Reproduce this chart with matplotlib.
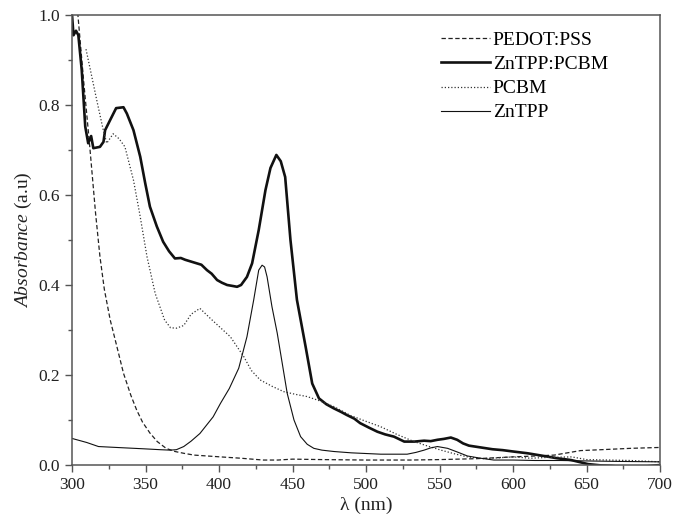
import matplotlib.pyplot as plt

# --- data ---
pedot_x = [302, 304, 308, 312, 316, 319, 322, 326, 330, 335, 340, 344, 348, 353, 358,
           364, 370, 376, 383, 392, 401, 415, 430, 440, 450, 470, 500, 530, 550, 575,
           600, 615, 628, 646, 660, 680, 700]
pedot_y = [1.08, 1.0, 0.85, 0.71, 0.56, 0.463, 0.39, 0.322, 0.27, 0.204, 0.155, 0.122,
           0.095, 0.071, 0.052, 0.037, 0.030, 0.026, 0.022, 0.020, 0.018, 0.015, 0.011,
           0.011, 0.013, 0.012, 0.011, 0.011, 0.012, 0.014, 0.018, 0.020, 0.022, 0.032,
           0.034, 0.037, 0.039]

blend_x = [300, 301, 302.7, 304.3, 306.6, 309, 311, 313, 314.5, 319, 321.4, 322.5, 326,
           330, 335, 337.3, 341.8, 346.4, 349.8, 353, 357.7, 362, 366, 370, 374, 377, 381,
           385, 388, 391.8, 395, 398.7, 402, 405.5, 409, 412.3, 415, 419, 422.5, 427,
           431.6, 435, 439, 442, 445, 448.6, 453, 458.9, 463.4, 468, 473, 478, 483, 487,
           492, 496, 502, 507.7, 513, 519, 526, 533, 539.5, 544, 548.6, 553, 557.7, 562,
           566, 570, 578, 586, 593, 600, 610, 621, 630, 639.5, 651, 660, 667, 678, 688, 700]
blend_y = [1.0, 0.955, 0.965, 0.955, 0.878, 0.752, 0.715, 0.731, 0.704, 0.707, 0.718,
           0.744, 0.767, 0.793, 0.795, 0.781, 0.744, 0.685, 0.626, 0.574, 0.53, 0.496,
           0.475, 0.459, 0.46, 0.456, 0.452, 0.448, 0.445, 0.433, 0.425, 0.411, 0.405,
           0.40, 0.398, 0.396, 0.40, 0.418, 0.448, 0.522, 0.611, 0.66, 0.689, 0.675,
           0.64, 0.5, 0.367, 0.263, 0.181, 0.148, 0.135, 0.126, 0.118, 0.111, 0.103,
           0.093, 0.083, 0.074, 0.068, 0.063, 0.052, 0.052, 0.054, 0.053, 0.056, 0.058,
           0.061, 0.056, 0.048, 0.043, 0.039, 0.035, 0.033, 0.030, 0.026, 0.020, 0.015,
           0.011, 0.002, -0.001, -0.002, -0.006, -0.004, 0.0]

pcbm_x = [309.5, 313, 316.8, 321, 323.6, 328, 332, 336, 341.8, 346, 351, 356.6, 363,
          367, 371, 376, 381, 387, 394, 401, 407.7, 416.8, 422, 428, 436, 444, 452, 460,
          469, 478, 489.5, 500, 510, 521, 532.7, 542, 551, 560, 569, 580, 590, 600, 612,
          625, 640, 650, 665, 680, 700]
pcbm_y = [0.924, 0.87, 0.811, 0.748, 0.715, 0.736, 0.725, 0.707, 0.633, 0.559, 0.463,
          0.381, 0.322, 0.305, 0.304, 0.31, 0.335, 0.348, 0.326, 0.305, 0.285, 0.241,
          0.21, 0.189, 0.175, 0.163, 0.157, 0.152, 0.142, 0.130, 0.11, 0.097, 0.085,
          0.068, 0.052, 0.042, 0.033, 0.025, 0.018, 0.014, 0.016, 0.018, 0.015, 0.017,
          0.018, 0.012, 0.011, 0.010, 0.007]

zntpp_x = [300, 310, 318, 330, 348.6, 360, 366.8, 371, 376, 381, 387, 396, 401, 407,
           413.4, 419, 423.6, 427, 429.3, 431, 432.7, 436, 439.6, 443, 446.4, 451,
           455.5, 460, 464.5, 470, 478, 490, 510, 528, 534, 539.5, 544, 548.6, 555.5,
           562, 569, 578, 587, 600, 615, 632.7, 650, 670, 700]
zntpp_y = [0.059, 0.050, 0.041, 0.039, 0.036, 0.034, 0.033, 0.034, 0.041, 0.053, 0.070,
           0.107, 0.137, 0.17, 0.215, 0.285, 0.367, 0.433, 0.444, 0.44, 0.418, 0.352,
           0.293, 0.226, 0.159, 0.10, 0.063, 0.046, 0.037, 0.033, 0.030, 0.027, 0.024,
           0.024, 0.028, 0.033, 0.038, 0.041, 0.037, 0.029, 0.020, 0.015, 0.011, 0.011,
           0.010, 0.010, 0.009, 0.008, 0.007]

labels = ["PEDOT:PSS", "ZnTPP:PCBM", "PCBM", "ZnTPP"]

plt.rcParams["font.family"] = ["Liberation Serif", "DejaVu Serif"]
plt.rcParams["mathtext.fontset"] = "custom"
plt.rcParams["mathtext.rm"] = "Liberation Serif"
plt.rcParams["mathtext.it"] = "Liberation Serif:italic"

fig = plt.figure(figsize=(6.75, 5.17), dpi=100)
ax = fig.add_axes([0.1067, 0.1006, 0.8711, 0.8704])

ax.plot(pedot_x, pedot_y, color="#222222", lw=0.9, ls=(0, (3.5, 2)), label=labels[0])
ax.plot(blend_x, blend_y, color="#111111", lw=1.9, ls="-", label=labels[1])
ax.plot(pcbm_x, pcbm_y, color="#333333", lw=0.9, ls=(0, (1, 1.6)), label=labels[2])
ax.plot(zntpp_x, zntpp_y, color="#111111", lw=0.8, ls="-", label=labels[3])

ax.set_xlim(300, 700)
ax.set_ylim(0, 1.0)
ax.set_xticks(range(300, 701, 50))
ax.set_xticks(range(325, 700, 50), minor=True)
ax.set_yticks([0.0, 0.2, 0.4, 0.6, 0.8, 1.0])
ax.set_yticks([0.1, 0.3, 0.5, 0.7, 0.9], minor=True)
ax.set_yticklabels(["0.0", "0.2", "0.4", "0.6", "0.8", "1.0"])

for s in ax.spines.values():
    s.set_color("#555555")
    s.set_linewidth(1.1)
ax.tick_params(which="major", direction="out", length=5, width=1.0, color="#555555",
               labelsize=12.5, labelcolor="#222222", top=False, right=False)
ax.tick_params(which="minor", direction="out", length=3, width=1.0, color="#555555",
               top=False, right=False)

ax.set_xlabel("λ (nm)", fontsize=14, color="#222222", labelpad=3)
ax.set_ylabel(r"$\it{Absorbance}$ (a.u)", fontsize=14, color="#222222", labelpad=3)

ax.legend(loc="upper left", bbox_to_anchor=(0.628, 0.963), frameon=False, fontsize=14,
          handlelength=2.5, handletextpad=0.15, labelspacing=0.33, borderpad=0,
          borderaxespad=0)

fig.savefig("out.png", dpi=100)
